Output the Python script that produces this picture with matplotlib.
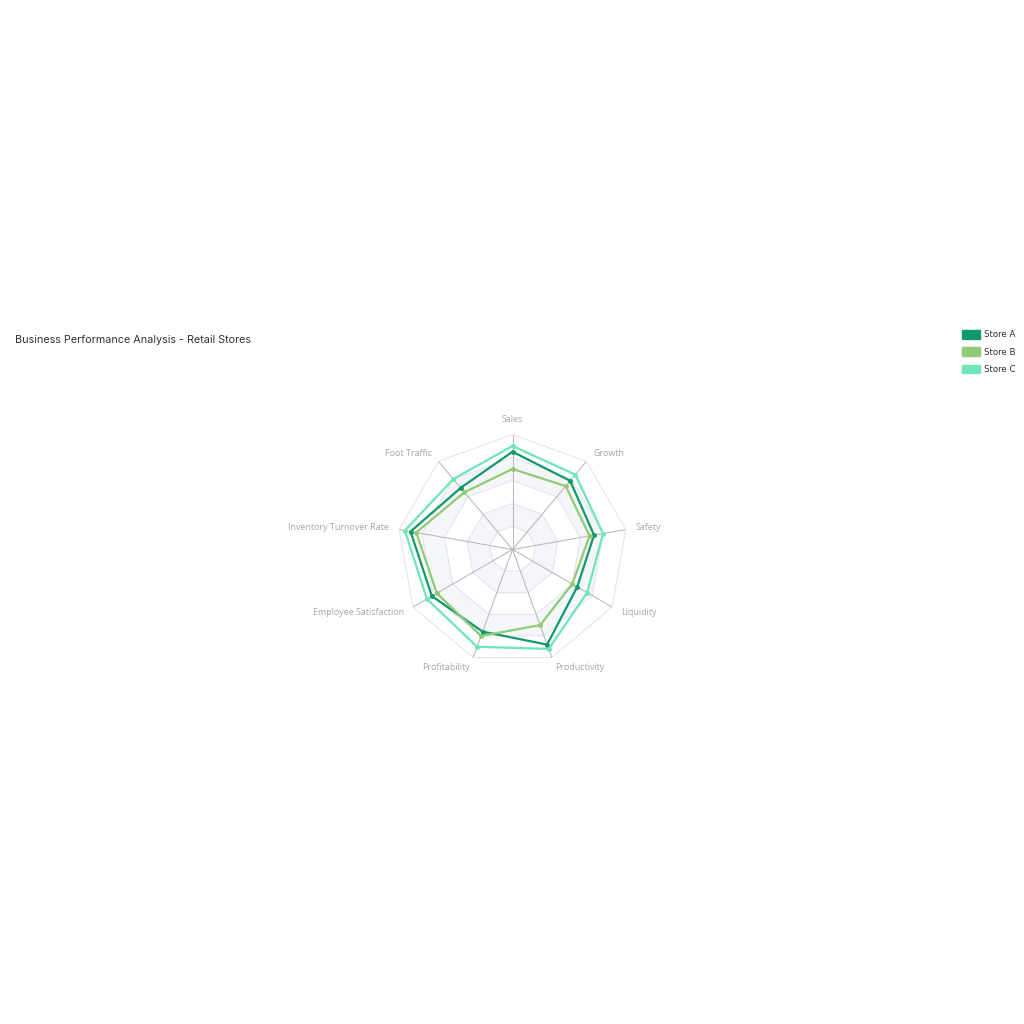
import numpy as np
import matplotlib
matplotlib.use("Agg")
import matplotlib.pyplot as plt
from matplotlib.patches import Patch

indicators = ["Sales", "Growth", "Safety", "Liquidity", "Productivity",
              "Profitability", "Employee Satisfaction", "Inventory Turnover Rate",
              "Foot Traffic"]
max_value = 100

store_a = [85, 78, 72, 65, 88, 76, 81, 90, 70]
store_b = [70, 72, 68, 60, 70, 80, 76, 85, 65]
store_c = [90, 85, 80, 75, 92, 90, 86, 95, 80]

series_names = ["Store A", "Store B", "Store C"]
series_colors = ["#11996b", "#8ecb72", "#6ee6b5"]
series = [store_a, store_b, store_c]

title = "Business Performance Analysis - Retail Stores"

fig = plt.figure(figsize=(10.24, 10.24), dpi=100)
fig.patch.set_facecolor("white")

# polar axes placed where the radar sits in the reference
cx, cy, rad = 512.5 / 1024, 1 - 549.5 / 1024, 115 / 1024
ax = fig.add_axes([cx - rad, cy - rad, 2 * rad, 2 * rad], projection="polar")
ax.set_theta_zero_location("N")
ax.set_theta_direction(-1)
ax.set_ylim(0, max_value)
ax.grid(False)
ax.set_xticks([])
ax.set_yticks([])
ax.spines["polar"].set_visible(False)
ax.patch.set_alpha(0)

n = len(indicators)
theta = np.linspace(0, 2 * np.pi, n, endpoint=False)
theta_closed = np.append(theta, theta[0])

# split areas, outer first so inner rings sit on top
rings = [1.0, 0.8, 0.6, 0.4, 0.2]
area_colors = ["white", "#f5f6fa", "white", "#f5f6fa", "white"]
for frac, col in zip(rings, area_colors):
    ax.fill(theta_closed, [frac * max_value] * (n + 1), color=col, zorder=1, lw=0)
for frac in rings:
    ax.plot(theta_closed, [frac * max_value] * (n + 1), color="#e0e6f1", lw=0.8, zorder=2)

# axis spokes
for t in theta:
    ax.plot([t, t], [0, max_value], color="#bbbbbb", lw=0.8, zorder=2)

# indicator names
for t, name in zip(theta, indicators):
    s = np.sin(t)
    if s > 0.1:
        ha = "left"
    elif s < -0.1:
        ha = "right"
    else:
        ha = "center"
    r = 109 if ha != "center" else 113
    ax.text(t, r, name, ha=ha, va="center", fontsize=6.4, color="#a6a6a6",
            family="Open Sans", clip_on=False)

for vals, col in zip(series, series_colors):
    v = vals + vals[:1]
    ax.plot(theta_closed, v, color=col, lw=1.6, zorder=4,
            marker="o", markersize=2.5, markevery=list(range(n)))

fig.text(15 / 1024, 1 - 340 / 1024, title, ha="left", va="center",
         fontsize=7.8, color="#333333", family="Inter")

handles = [Patch(facecolor=c, edgecolor=c, label=l) for l, c in zip(series_names, series_colors)]
leg = fig.legend(handles=handles, loc="upper left", bbox_to_anchor=(962 / 1024, 1 - 330 / 1024),
                 frameon=False, fontsize=6.2, handlelength=2.1, handleheight=1.15,
                 handletextpad=0.45, labelspacing=0.95, borderpad=0, borderaxespad=0)
for txt in leg.get_texts():
    txt.set_color("#333333")

fig.savefig("out.png", dpi=100, facecolor="white")
